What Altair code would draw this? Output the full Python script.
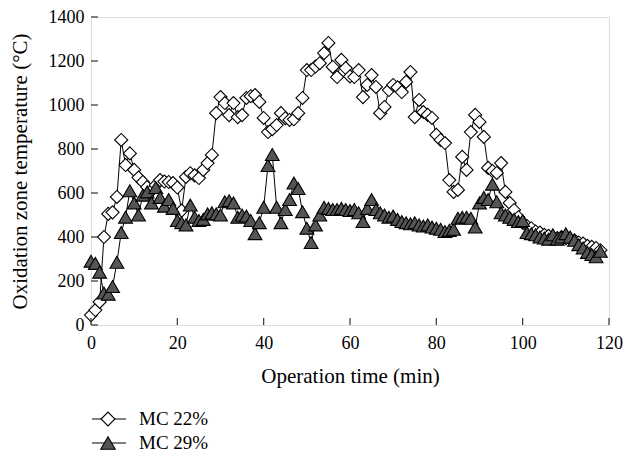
import altair as alt
import pandas as pd

# Time (min)
time_min = list(range(0, 119))

# MC 22% series (open diamonds), °C
mc22 = [45, 68, 105, 400, 505, 512, 582, 841, 727, 780,
        705, 670, 650, 627, 610, 636, 659, 652, 650, 645,
        625, 520, 673, 690, 680, 668, 705, 736, 773, 963,
        1036, 1009, 954, 1009, 945, 954, 1032, 1040, 1045, 1014,
        941, 877, 890, 909, 963, 940, 932, 935, 963, 1032,
        1159, 1159, 1175, 1190, 1236, 1282, 1173, 1127, 1205, 1168,
        1130, 1127, 1159, 1036, 1091, 1136, 1082, 963, 991, 1068,
        1091, 1080, 1059, 1105, 1150, 945, 1023, 968, 955, 941,
        864, 841, 827, 659, 605, 614, 764, 705, 877, 955,
        923, 855, 714, 700, 691, 736, 605, 555, 523, 490,
        465, 450, 440, 425, 420, 410, 405, 400, 395, 400,
        395, 390, 385, 375, 370, 360, 355, 350, 340]

# MC 29% series (filled triangles), °C
mc29 = [290, 280, 240, 145, 140, 175, 285, 420, 490, 610,
        555, 500, 590, 605, 555, 625, 580, 540, 570, 530,
        475, 465, 455, 545, 490, 475, 480, 505, 510, 505,
        500, 560, 565, 555, 490, 500, 495, 475, 415, 465,
        535, 725, 775, 535, 465, 525, 570, 645, 620, 515,
        440, 375, 455, 500, 535, 530, 525, 525, 530, 525,
        520, 525, 510, 470, 530, 570, 525, 510, 500, 490,
        495, 480, 470, 465, 460, 465, 455, 450, 455, 445,
        440, 435, 425, 430, 435, 485, 490, 490, 485, 445,
        555, 580, 570, 640, 560, 510, 500, 490, 480, 470,
        475, 420, 415, 410, 400, 395, 390, 410, 390, 400,
        415, 400, 385, 365, 350, 330, 320, 310, 335]

x_ticks = [0, 20, 40, 60, 80, 100, 120]
y_ticks = [0, 200, 400, 600, 800, 1000, 1200, 1400]
series_names = ["MC 22%", "MC 29%"]

W, H = 518, 308
FONT = "Liberation Serif"
AX = "#333333"

df22 = pd.DataFrame({"t": time_min, "v": mc22})
df29 = pd.DataFrame({"t": time_min, "v": mc29})

xs = alt.Scale(domain=[0, 120], nice=False, zero=False)
ys = alt.Scale(domain=[0, 1400], nice=False)

xax = alt.Axis(values=x_ticks, format="d", title="Operation time (min)", ticks=False,
               tickSize=0, domain=False, grid=False, labelFlush=False, labelFont=FONT,
               labelFontSize=18, labelColor="black", labelPadding=9, titleFont=FONT,
               titleFontSize=21, titleFontWeight="normal", titleColor="black",
               titlePadding=13)
yax = alt.Axis(values=y_ticks, format="d", title="Oxidation zone temperature (\u00b0C)",
               ticks=False, tickSize=0, domain=False, grid=False, labelFlush=False,
               labelFont=FONT, labelFontSize=18, labelColor="black", labelPadding=7,
               titleFont=FONT, titleFontSize=21, titleFontWeight="normal",
               titleColor="black", titlePadding=18)

base22 = alt.Chart(df22).encode(x=alt.X("t:Q", scale=xs, axis=xax),
                                y=alt.Y("v:Q", scale=ys, axis=yax))
base29 = alt.Chart(df29).encode(x=alt.X("t:Q", scale=xs), y=alt.Y("v:Q", scale=ys))

line22 = base22.mark_line(color="black", strokeWidth=1)
pts22 = base22.mark_point(shape="diamond", filled=True, fill="white", stroke="black",
                          strokeWidth=1.1, size=170, opacity=1)
line29 = base29.mark_line(color="black", strokeWidth=1)
pts29 = base29.mark_point(shape="triangle-up", filled=True, fill="#555555", stroke="black",
                          strokeWidth=1.1, size=190, opacity=1)

xt = alt.Chart(pd.DataFrame({"v": x_ticks})).mark_rule(color=AX, strokeWidth=1.2).encode(
    x=alt.X("v:Q", scale=xs), y=alt.value(H), y2=alt.value(H - 7))
yt = alt.Chart(pd.DataFrame({"v": y_ticks})).mark_rule(color=AX, strokeWidth=1.2).encode(
    y=alt.Y("v:Q", scale=ys), x=alt.value(0), x2=alt.value(7))

# legend
legend_layers = []
shapes = [("diamond", "white", 190), ("triangle-up", "#555555", 210)]
for i, name in enumerate(series_names):
    ld = pd.DataFrame({"label": [name]})
    yy = 402 + 24 * i
    lr = alt.Chart(ld).mark_rule(color="black", strokeWidth=1).encode(
        x=alt.value(1), x2=alt.value(35), y=alt.value(yy))
    lp = alt.Chart(ld).mark_point(shape=shapes[i][0], filled=True, fill=shapes[i][1],
                                  stroke="black", strokeWidth=1.1, size=shapes[i][2],
                                  opacity=1).encode(x=alt.value(17), y=alt.value(yy))
    lt = alt.Chart(ld).mark_text(font=FONT, fontSize=19, align="left", baseline="middle",
                                 color="black").encode(
        x=alt.value(48), y=alt.value(yy), text="label:N")
    legend_layers += [lr, lp, lt]

chart = alt.layer(line22, pts22, line29, pts29, xt, yt, *legend_layers).properties(
    width=W, height=H,
    padding={"left": 83, "top": 9, "right": 14, "bottom": 127},
    autosize=alt.AutoSizeParams(type="none"),
).configure_view(stroke=AX, strokeWidth=1.5).configure(background="white")

chart.save("out.html", embed_options={"renderer": "svg", "actions": False})
